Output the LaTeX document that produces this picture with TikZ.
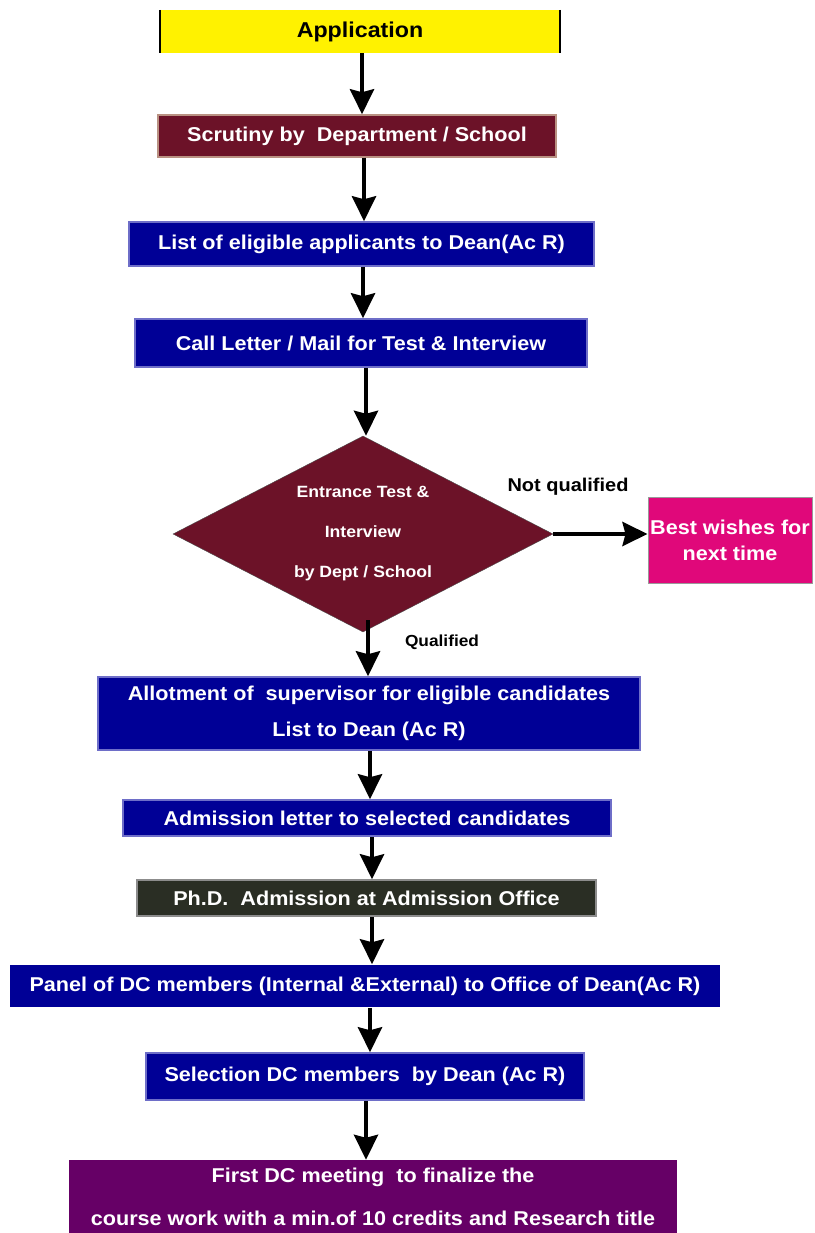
\documentclass[tikz,border=0pt]{standalone}
\usepackage{tikz}
\usepackage{xcolor}
\usepackage{fontspec}
\setmainfont[FakeStretch=1.08]{Liberation Sans}
\usetikzlibrary{shapes.geometric,arrows.meta}

\definecolor{maroonbox}{RGB}{108,18,40}
\definecolor{maroonedge}{RGB}{185,145,130}
\definecolor{navybox}{RGB}{0,0,150}
\definecolor{navyedge}{RGB}{110,110,200}
\definecolor{darkbox}{RGB}{42,46,36}
\definecolor{pinkbox}{RGB}{224,8,122}
\definecolor{purplebox}{RGB}{102,0,102}

\tikzset{
  stage/.style={rectangle, inner sep=0pt, align=center, text=white,
                font=\bfseries\fontsize{20}{36}\selectfont},
  bluestage/.style={stage, fill=navybox, draw=navyedge, line width=1.5pt},
  flow/.style={line width=4pt, -{Stealth[width=24pt,length=25pt,inset=3pt]}},
  tag/.style={inner sep=0pt, text=black, font=\bfseries\fontsize{18.5}{22}\selectfont}
}

\begin{document}
\begin{tikzpicture}[x=1pt,y=-1pt]
        \path[fill=white,use as bounding box] (0,0) rectangle (814,1233);
        % boxes, top to bottom
        \node[stage, fill=yellow, text=black,                  %start
              minimum width=400pt, minimum height=43pt,
              font=\bfseries\fontsize{21.5}{26}\selectfont]
              (app) at (360,31.5) {Application};
        \draw[line width=2pt] (app.north west) -- (app.south west)
                              (app.north east) -- (app.south east);
        \node[stage, fill=maroonbox, draw=maroonedge, line width=1.5pt,
              minimum width=398pt, minimum height=42pt]
              (scr) at (357,136) {Scrutiny by~~Department / School};
        \node[bluestage, minimum width=465pt, minimum height=44pt]
              (elig) at (361.5,244) {List of eligible applicants to Dean(Ac R)};
        \node[bluestage, minimum width=452pt, minimum height=48pt]
              (call) at (361,343) {Call Letter / Mail for Test \& Interview};
        \node[diamond, aspect=1.94, fill=maroonbox, draw=black!70, inner sep=0pt,
              minimum width=380pt, minimum height=196pt, align=center,
              text=white, font=\bfseries\fontsize{16.3}{40}\selectfont]   %decision
              (test) at (363,534) {Entrance Test \&\\Interview\\by Dept / School};
        \node[stage, fill=pinkbox, draw=black!40, line width=1pt,
              minimum width=164pt, minimum height=86pt,
              font=\bfseries\fontsize{20}{26}\selectfont]
              (best) at (730,540) {Best wishes for\\next time};
        \node[bluestage, minimum width=542pt, minimum height=73pt]
              (allot) at (369,713.5) {Allotment of~~supervisor for eligible candidates\\List to Dean (Ac R)};
        \node[bluestage, minimum width=488pt, minimum height=36pt]
              (letter) at (367,818) {Admission letter to selected candidates};
        \node[stage, fill=darkbox, draw=black!45, line width=1.5pt,
              minimum width=459pt, minimum height=36pt]
              (phd) at (366.5,898) {Ph.D.~~Admission at Admission Office};
        \node[bluestage, draw=none, minimum width=710pt, minimum height=42pt]
              (panel) at (365,986) {Panel of DC members (Internal \&External) to Office of Dean(Ac R)};
        \node[bluestage, minimum width=438pt, minimum height=47pt]
              (sel) at (365,1076.5) {Selection DC members~~by Dean (Ac R)};
        \node[stage, fill=purplebox,
              minimum width=608pt, minimum height=73pt]
              (first) at (373,1196.5) {First DC meeting~~to finalize the\\[7pt]course work with a min.of 10 credits and Research title};
        % labels on the branches
        \node[tag] (nq) at (568,487) {Not qualified};
        \node[tag, font=\bfseries\fontsize{16}{20}\selectfont] (q) at (442,642) {Qualified};
        % arrows
        \draw[flow] ([xshift=2pt]app.south)    -- ([xshift=5pt]scr.north);
        \draw[flow] ([xshift=7pt]scr.south)    -- ([xshift=2.5pt]elig.north);
        \draw[flow] ([xshift=1.5pt]elig.south) -- ([xshift=2pt]call.north);
        \draw[flow] ([xshift=5pt]call.south)   -- ([xshift=3pt]test.north);
        \draw[flow] ([xshift=5pt,yshift=12pt]test.south) -- ([xshift=-1pt]allot.north);
        \draw[flow] ([xshift=1pt]allot.south)  -- ([xshift=3pt]letter.north);
        \draw[flow] ([xshift=5pt]letter.south) -- ([xshift=5.5pt]phd.north);
        \draw[flow] ([xshift=5.5pt]phd.south)  -- ([xshift=7pt]panel.north);
        \draw[flow] ([xshift=5pt]panel.south)  -- ([xshift=5pt]sel.north);
        \draw[flow] ([xshift=1pt]sel.south)    -- ([xshift=-7pt]first.north);
        \draw[flow] (test.east) -- (best.west |- test.east);
\end{tikzpicture}
\end{document}
